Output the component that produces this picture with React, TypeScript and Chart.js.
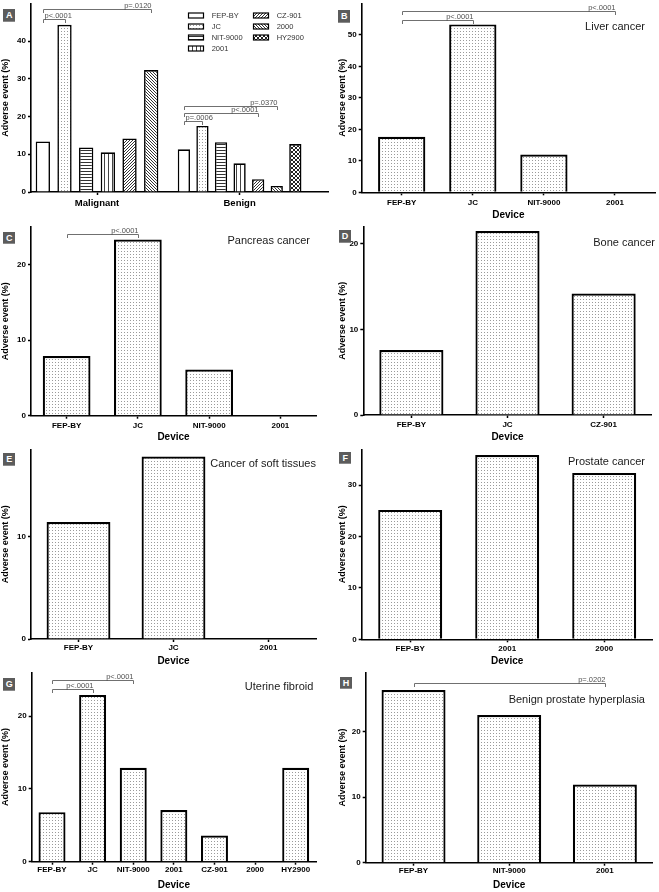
import React, { useEffect, useRef } from 'react';
import { Chart, registerables } from 'chart.js';

Chart.register(...registerables);
Chart.defaults.font.family = "'Liberation Sans', Arial, Helvetica, sans-serif";

// ---------- DATA ----------
const groupsA = ['Malignant', 'Benign'];
const devicesA = ['FEP-BY', 'JC', 'NIT-9000', '2001', 'CZ-901', '2000', 'HY2900'];
const aFEPBY = [13.4, 11.3];
const aJC = [44.3, 17.5];
const aNIT9000 = [11.8, 13.2];
const a2001 = [10.5, 7.6];
const aCZ901 = [14.2, 3.4];
const a2000 = [32.3, 1.6];
const aHY2900 = [null, 12.7];

const liverDevices = ['FEP-BY', 'JC', 'NIT-9000', '2001'];
const liverValues = [17.6, 53.3, 12.0, 0];
const pancreasDevices = ['FEP-BY', 'JC', 'NIT-9000', '2001'];
const pancreasValues = [7.9, 23.3, 6.1, 0];
const boneDevices = ['FEP-BY', 'JC', 'CZ-901'];
const boneValues = [7.6, 21.5, 14.2];
const softDevices = ['FEP-BY', 'JC', '2001'];
const softValues = [11.4, 17.8, 0];
const prostateDevices = ['FEP-BY', '2001', '2000'];
const prostateValues = [25.2, 35.9, 32.4];
const fibroidDevices = ['FEP-BY', 'JC', 'NIT-9000', '2001', 'CZ-901', '2000', 'HY2900'];
const fibroidValues = [6.8, 22.9, 12.9, 7.1, 3.6, 0, 12.9];
const bphDevices = ['FEP-BY', 'NIT-9000', '2001'];
const bphValues = [26.3, 22.5, 11.9];

const yStep = 10;
const axisMax = { A: 50, B: 60, C: 25, D: 22, E: 18.5, F: 37, G: 26, H: 29 };

// significance brackets: [datasetIndex, categoryIndex], level in axis units
const bracketsA = [
  { from: [0, 0], to: [1, 0], level: 45.8, label: 'p<.0001', align: 'left' },
  { from: [0, 0], to: [5, 0], level: 48.5, label: 'p=.0120', align: 'right' },
  { from: [0, 1], to: [1, 1], level: 18.8, label: 'p=.0006', align: 'left' },
  { from: [0, 1], to: [4, 1], level: 20.85, label: 'p<.0001', align: 'right' },
  { from: [0, 1], to: [5, 1], level: 22.8, label: 'p=.0370', align: 'right' },
];
const bracketsB = [
  { from: [0, 0], to: [0, 3], level: 57.5, label: 'p<.0001', align: 'right' },
  { from: [0, 0], to: [0, 1], level: 54.7, label: 'p<.0001', align: 'right' },
];
const bracketsC = [{ from: [0, 0], to: [0, 1], level: 24.0, label: 'p<.0001', align: 'right' }];
const bracketsG = [
  { from: [0, 0], to: [0, 2], level: 25.0, label: 'p<.0001', align: 'right' },
  { from: [0, 0], to: [0, 1], level: 23.7, label: 'p<.0001', align: 'right' },
];
const bracketsH = [{ from: [0, 0], to: [0, 2], level: 27.4, label: 'p=.0202', align: 'right' }];

// ---------- STYLES ----------
const FONT = "'Liberation Sans', Arial, Helvetica, sans-serif";
const patternsA = ['open', 'dots', 'hlines', 'vlines', 'fdiag', 'bdiag', 'cross'];

const TILES: Record<string, { w: number; h: number; color: string; px: number[][] }> = {
  dots: { w: 3, h: 3, color: '#9a9a9a', px: [[1, 1]] },
  hlines: { w: 3, h: 3, color: '#333333', px: [[0, 0, 3, 1]] },
  vlines: { w: 4, h: 4, color: '#444444', px: [[0, 0, 1, 4]] },
  fdiag: { w: 3, h: 3, color: '#333333', px: [[2, 0], [1, 1], [0, 2]] },
  bdiag: { w: 3, h: 3, color: '#333333', px: [[0, 0], [1, 1], [2, 2]] },
  cross: { w: 4, h: 4, color: '#222222', px: [[0, 0], [1, 1], [2, 2], [3, 3], [3, 0], [2, 1], [1, 2], [0, 3]] },
};

function makePattern(ctx: CanvasRenderingContext2D, kind: string): any {
  if (kind === 'open') return '#ffffff';
  const spec = TILES[kind];
  const t = document.createElement('canvas');
  t.width = spec.w;
  t.height = spec.h;
  const c = t.getContext('2d')!;
  c.fillStyle = '#ffffff';
  c.fillRect(0, 0, spec.w, spec.h);
  c.fillStyle = spec.color;
  spec.px.forEach(([x, y, w = 1, h = 1]) => c.fillRect(x, y, w, h));
  return ctx.createPattern(t, 'repeat');
}

type Series = { label: string; data: (number | null)[]; pattern: string };
type PanelCfg = {
  key: string;
  left: number; top: number; w: number; h: number;
  yW: number; padT: number; padR: number; xH: number;
  yMax: number;
  labels: string[];
  series: Series[];
  edge?: [number, number];
  tickFont: number; tickPad: number;
  xTitle: boolean; xTitlePadB: number;
  yTitlePadT: number;
  barPct: number; catPct: number; borderWidth: number;
  brackets: any[];
  legend?: boolean;
};

const LEFT_T = 1.5;
const RIGHT_T = 7.9;

const PANELS: PanelCfg[] = [
  {
    key: 'A', left: 0, top: 0, w: 330, h: 220, yW: 31, padT: 3.3, padR: 2, xH: 28, yMax: axisMax.A,
    labels: groupsA,
    series: [aFEPBY, aJC, aNIT9000, a2001, aCZ901, a2000, aHY2900].map((d, i) => ({ label: devicesA[i], data: d, pattern: patternsA[i] })),
    edge: [0.463, 0.62], tickFont: 9.5, tickPad: 2.3, xTitle: false, xTitlePadB: 0, yTitlePadT: LEFT_T,
    barPct: 0.66, catPct: 0.912, borderWidth: 1.6, brackets: bracketsA, legend: true,
  },
  {
    key: 'B', left: 330, top: 0, w: 329, h: 220, yW: 31.7, padT: 3.3, padR: 4, xH: 27.7, yMax: axisMax.B,
    labels: liverDevices, series: [{ label: 'Liver cancer', data: liverValues, pattern: 'dots' }],
    edge: [0.5626, 0.5626], tickFont: 8, tickPad: 2.9, xTitle: true, xTitlePadB: 0, yTitlePadT: RIGHT_T,
    barPct: 0.665, catPct: 1, borderWidth: 2.2, brackets: bracketsB,
  },
  {
    key: 'C', left: 0, top: 220, w: 330, h: 222, yW: 31, padT: 6.7, padR: 14, xH: 26.3, yMax: axisMax.C,
    labels: pancreasDevices, series: [{ label: 'Pancreas cancer', data: pancreasValues, pattern: 'dots' }],
    tickFont: 8, tickPad: 2.2, xTitle: true, xTitlePadB: 0, yTitlePadT: LEFT_T,
    barPct: 0.67, catPct: 1, borderWidth: 2.2, brackets: bracketsC,
  },
  {
    key: 'D', left: 330, top: 220, w: 329, h: 222, yW: 33.3, padT: 6.7, padR: 7.3, xH: 27, yMax: axisMax.D,
    labels: boneDevices, series: [{ label: 'Bone cancer', data: boneValues, pattern: 'dots' }],
    tickFont: 8, tickPad: 2.2, xTitle: true, xTitlePadB: 0, yTitlePadT: RIGHT_T,
    barPct: 0.667, catPct: 1, borderWidth: 2.2, brackets: [],
  },
  {
    key: 'E', left: 0, top: 442, w: 330, h: 224, yW: 31, padT: 7.3, padR: 14, xH: 27, yMax: axisMax.E,
    labels: softDevices, series: [{ label: 'Cancer of soft tissues', data: softValues, pattern: 'dots' }],
    tickFont: 8, tickPad: 0.5, xTitle: true, xTitlePadB: 0, yTitlePadT: LEFT_T,
    barPct: 0.672, catPct: 1, borderWidth: 2.2, brackets: [],
  },
  {
    key: 'F', left: 330, top: 442, w: 329, h: 224, yW: 31.7, padT: 7.3, padR: 6.3, xH: 26.7, yMax: axisMax.F,
    labels: prostateDevices, series: [{ label: 'Prostate cancer', data: prostateValues, pattern: 'dots' }],
    tickFont: 8, tickPad: 1.2, xTitle: true, xTitlePadB: 0, yTitlePadT: RIGHT_T,
    barPct: 0.66, catPct: 1, borderWidth: 2.2, brackets: [],
  },
  {
    key: 'G', left: 0, top: 666, w: 330, h: 226, yW: 31.7, padT: 6.3, padR: 14, xH: 30.3, yMax: axisMax.G,
    labels: fibroidDevices, series: [{ label: 'Uterine fibroid', data: fibroidValues, pattern: 'dots' }],
    tickFont: 8, tickPad: 0.5, xTitle: true, xTitlePadB: 1.3, yTitlePadT: LEFT_T,
    barPct: 0.665, catPct: 1, borderWidth: 2.2, brackets: bracketsG,
  },
  {
    key: 'H', left: 330, top: 666, w: 329, h: 226, yW: 35.7, padT: 6.3, padR: 6.3, xH: 29.3, yMax: axisMax.H,
    labels: bphDevices, series: [{ label: 'Benign prostate hyperplasia', data: bphValues, pattern: 'dots' }],
    tickFont: 8, tickPad: 0.3, xTitle: true, xTitlePadB: 1.3, yTitlePadT: RIGHT_T,
    barPct: 0.669, catPct: 1, borderWidth: 2.2, brackets: bracketsH,
  },
];

const TITLES = [
  { text: 'Liver cancer', right: 14, top: 20.2 },
  { text: 'Pancreas cancer', right: 349, top: 234.2 },
  { text: 'Bone cancer', right: 4, top: 235.8 },
  { text: 'Cancer of soft tissues', right: 343, top: 456.8 },
  { text: 'Prostate cancer', right: 14, top: 455.2 },
  { text: 'Uterine fibroid', right: 345.7, top: 679.5 },
  { text: 'Benign prostate hyperplasia', right: 14, top: 692.8 },
];

const LABEL_BOXES = [
  { t: 'A', left: 3.3, top: 9.3 },
  { t: 'B', left: 338.3, top: 10 },
  { t: 'C', left: 3.3, top: 231.7 },
  { t: 'D', left: 339, top: 230 },
  { t: 'E', left: 3.3, top: 453.3 },
  { t: 'F', left: 339.3, top: 451.7 },
  { t: 'G', left: 3.3, top: 678 },
  { t: 'H', left: 340, top: 676.7 },
];

function annotPlugin(cfg: PanelCfg) {
  return {
    id: 'annot' + cfg.key,
    afterDatasetsDraw(chart: any) {
      const ctx = chart.ctx as CanvasRenderingContext2D;
      const y = chart.scales.y;
      ctx.save();
      ctx.strokeStyle = '#707070';
      ctx.lineWidth = 1;
      ctx.fillStyle = '#505050';
      ctx.font = `7.5px ${FONT}`;
      ctx.textBaseline = 'bottom';
      cfg.brackets.forEach((b: any) => {
        const e1 = chart.getDatasetMeta(b.from[0]).data[b.from[1]];
        const e2 = chart.getDatasetMeta(b.to[0]).data[b.to[1]];
        if (!e1 || !e2) return;
        const x1 = Math.round(e1.x) + 0.5;
        const x2 = Math.round(e2.x) + 0.5;
        const yy = Math.round(y.getPixelForValue(b.level)) + 0.5;
        ctx.beginPath();
        ctx.moveTo(x1, yy + 3.5);
        ctx.lineTo(x1, yy);
        ctx.lineTo(x2, yy);
        ctx.lineTo(x2, yy + 3.5);
        ctx.stroke();
        ctx.textAlign = b.align === 'left' ? 'left' : 'right';
        ctx.fillText(b.label, b.align === 'left' ? x1 + 1 : x2, yy - 0.3);
      });
      ctx.restore();
    },
    afterDraw(chart: any) {
      if (!cfg.legend) return;
      const ctx = chart.ctx as CanvasRenderingContext2D;
      ctx.save();
      chart.data.datasets.forEach((ds: any, i: number) => {
        const col = i < 4 ? 0 : 1;
        const row = i < 4 ? i : i - 4;
        const sx = col === 0 ? 188.5 : 253.5;
        const cy = 15.5 + row * 11;
        ctx.fillStyle = ds.backgroundColor;
        ctx.fillRect(sx, cy - 2.5, 15, 5);
        ctx.strokeStyle = '#000';
        ctx.lineWidth = 1.2;
        ctx.strokeRect(sx, cy - 2.5, 15, 5);
        ctx.fillStyle = '#333';
        ctx.font = `7.5px ${FONT}`;
        ctx.textAlign = 'left';
        ctx.textBaseline = 'middle';
        ctx.fillText(ds.label, sx + 23.2, cy + 0.3);
      });
      ctx.restore();
    },
  };
}

function buildConfig(cfg: PanelCfg, ctx: CanvasRenderingContext2D): any {
  const datasets = cfg.series.map((s) => ({
    label: s.label,
    data: s.data,
    backgroundColor: makePattern(ctx, s.pattern),
    borderColor: '#000000',
    borderWidth: cfg.borderWidth,
    skipNull: true,
    barPercentage: cfg.barPct,
    categoryPercentage: cfg.catPct,
  }));
  const edge = cfg.edge ?? [0.5, 0.5];
  return {
    type: 'bar',
    data: { labels: cfg.labels, datasets },
    options: {
      responsive: false,
      animation: false,
      events: [],
      layout: { padding: { left: 0, top: cfg.padT, right: cfg.padR, bottom: 0 } },
      plugins: { legend: { display: false }, tooltip: { enabled: false }, title: { display: false } },
      scales: {
        x: {
          type: 'category',
          offset: true,
          grid: {
            display: true, offset: false, drawOnChartArea: false, drawTicks: true,
            tickLength: 3, tickWidth: 1.5, tickColor: '#000', color: '#000',
          },
          border: { display: true, color: '#000', width: 1.6 },
          ticks: {
            color: '#000', font: { size: cfg.tickFont, weight: 'bold' }, padding: cfg.tickPad,
            maxRotation: 0, minRotation: 0, autoSkip: false,
          },
          title: {
            display: cfg.xTitle, text: 'Device', color: '#000',
            font: { size: 10, weight: 'bold', lineHeight: 1 },
            padding: { top: 0, bottom: cfg.xTitlePadB },
          },
          afterBuildTicks: (s: any) => {
            const n = s.ticks.length;
            s._startValue = s.min - edge[0];
            s._valueRange = (n - 1) + edge[0] + edge[1];
          },
          afterFit: (s: any) => {
            s.height = cfg.xH;
            s.paddingLeft = 0;
            s.paddingRight = 0;
          },
        },
        y: {
          type: 'linear',
          min: 0,
          max: cfg.yMax,
          grid: {
            display: true, drawOnChartArea: false, drawTicks: true,
            tickLength: 3, tickWidth: 1.5, tickColor: '#000', color: '#000',
          },
          border: { display: true, color: '#000', width: 1.6 },
          ticks: { stepSize: yStep, color: '#000', font: { size: 8, weight: 'bold' }, padding: 2 },
          title: {
            display: true, text: 'Adverse event (%)', color: '#000',
            font: { size: 9, weight: 'bold', lineHeight: 1 },
            padding: { top: cfg.yTitlePadT, bottom: 0 },
          },
          afterBuildTicks: (s: any) => {
            s.ticks = s.ticks.filter(
              (t: any) => t.value < cfg.yMax - 1e-6 && Math.abs(t.value / yStep - Math.round(t.value / yStep)) < 1e-6,
            );
          },
          afterFit: (s: any) => {
            s.width = cfg.yW;
            s.paddingTop = 0;
            s.paddingBottom = 0;
          },
        },
      },
    },
    plugins: [annotPlugin(cfg)],
  };
}

function Panel({ cfg }: { cfg: PanelCfg }) {
  const ref = useRef<HTMLCanvasElement>(null);
  useEffect(() => {
    const canvas = ref.current!;
    const ctx = canvas.getContext('2d')!;
    const chart = new Chart(ctx, buildConfig(cfg, ctx));
    return () => chart.destroy();
  }, [cfg]);
  return (
    <canvas
      ref={ref}
      width={cfg.w}
      height={cfg.h}
      style={{ position: 'absolute', left: cfg.left, top: cfg.top, width: cfg.w, height: cfg.h }}
    />
  );
}

export default function App() {
  return (
    <div style={{ position: 'absolute', left: 0, top: 0, width: 659, height: 892, background: '#fff', overflow: 'hidden' }}>
      {PANELS.map((p) => (
        <Panel key={p.key} cfg={p} />
      ))}
      {TITLES.map((t) => (
        <div
          key={t.text}
          style={{
            position: 'absolute', right: t.right, top: t.top, fontFamily: FONT, fontSize: 11,
            lineHeight: '13px', color: '#1a1a1a', whiteSpace: 'nowrap',
          }}
        >
          {t.text}
        </div>
      ))}
      {LABEL_BOXES.map((b) => (
        <div
          key={b.t}
          style={{
            position: 'absolute', left: b.left, top: b.top, width: 12, height: 12.5, background: '#5c5c5c',
            color: '#fff', fontFamily: FONT, fontWeight: 'bold', fontSize: 9, lineHeight: '12.5px',
            textAlign: 'center', boxSizing: 'border-box', borderBottom: '1px solid #8a8a8a',
          }}
        >
          {b.t}
        </div>
      ))}
    </div>
  );
}
